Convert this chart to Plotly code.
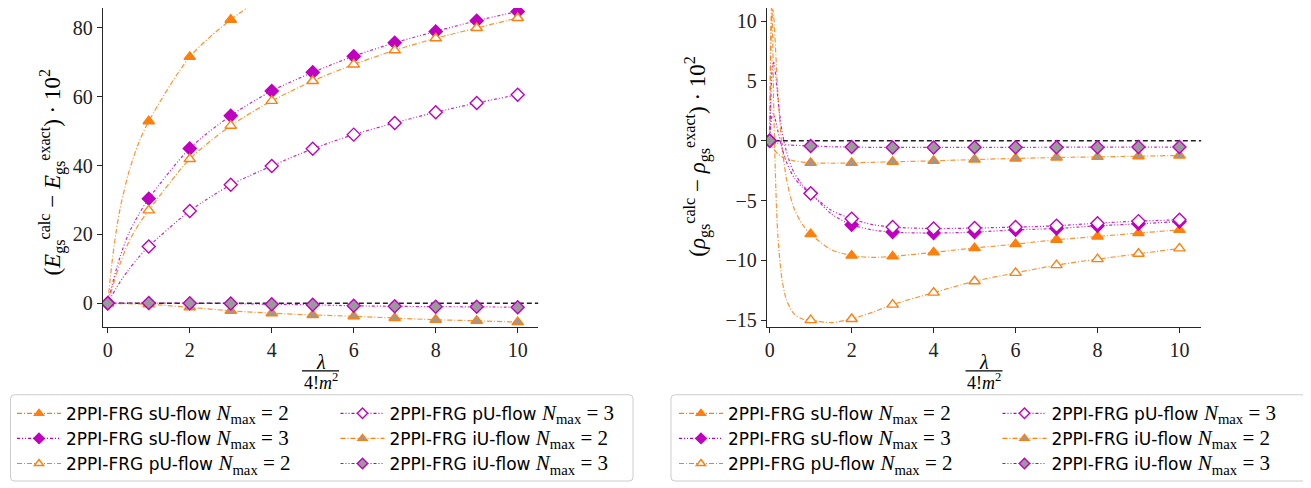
import plotly.graph_objects as go

# ---------------- data ----------------
# left panel: (E_calc - E_exact) * 10^2  vs  lambda / (4! m^2)
LAM_E = [0, 0.05, 0.1, 0.2, 0.3, 0.5, 0.75, 1, 2, 3, 4, 5, 6, 7, 8, 9, 10]
LAM_E_SU2 = [0, 0.05, 0.1, 0.2, 0.3, 0.5, 0.75, 1, 2, 3, 4]
E_SU2 = [0, 6.0, 11.5, 20.5, 27.5, 37.5, 46.5, 52.9, 71.6, 82.4, 90.5]
E_SU3 = [0, 2.5, 5.0, 9.5, 13.5, 20.0, 25.7, 30.4, 45.0, 54.5, 61.7, 67.1, 71.8, 75.7, 79.0, 82.1, 84.8]
E_PU2 = [0, 2.0, 4.0, 8.0, 11.5, 17.5, 22.8, 27.0, 41.9, 51.6, 58.8, 64.6, 69.4, 73.5, 77.0, 80.0, 82.9]
E_PU3 = [0, 1.1, 2.2, 4.3, 6.2, 9.6, 13.3, 16.5, 26.8, 34.4, 39.9, 44.9, 49.0, 52.4, 55.5, 58.2, 60.6]
E_IU2 = [0, -0.01, -0.03, -0.06, -0.09, -0.14, -0.22, -0.3, -1.2, -2.2, -2.9, -3.4, -3.8, -4.3, -4.8, -5.1, -5.5]
E_IU3 = [0, 0.0, 0.0, 0.01, 0.02, 0.03, 0.04, 0.05, 0.0, -0.1, -0.3, -0.45, -0.75, -0.9, -1.0, -1.05, -1.15]

# right panel: (rho_calc - rho_exact) * 10^2
LAM_R = [0, 0.025, 0.05, 0.075, 0.1, 0.15, 0.2, 0.3, 0.4, 0.5, 0.6, 0.8, 1,
         1.5, 2, 2.5, 3, 4, 5, 6, 7, 8, 9, 10]
R_SU2 = [0, 6.5, 10.3, 11.0, 10.3, 7.2, 4.0, -0.5, -3.0, -4.6, -5.7, -7.0, -7.8,
         -9.1, -9.6, -9.75, -9.67, -9.33, -8.97, -8.64, -8.28, -8.0, -7.72, -7.45]
R_SU3 = [0, 1.2, 2.0, 2.25, 2.2, 1.6, 0.8, -0.6, -1.7, -2.5, -3.1, -3.9, -4.4,
         -6.1, -7.03, -7.45, -7.64, -7.72, -7.64, -7.45, -7.34, -7.11, -6.95, -6.75]
R_PU2 = [0, 9.0, 11.6, 8.0, 2.5, -4.0, -8.0, -11.6, -13.2, -14.0, -14.5, -14.9, -15.0,
         -15.2, -14.9, -14.35, -13.7, -12.7, -11.75, -11.05, -10.4, -9.9, -9.45, -9.0]
R_PU3 = [0, 3.0, 5.5, 6.4, 6.55, 5.3, 3.5, 0.8, -0.8, -1.9, -2.7, -3.7, -4.4,
         -5.8, -6.53, -7.0, -7.22, -7.34, -7.3, -7.22, -7.11, -6.89, -6.72, -6.61]
R_IU2 = [0, -0.2, -0.38, -0.55, -0.7, -0.92, -1.1, -1.35, -1.5, -1.6, -1.68, -1.78, -1.85,
         -1.88, -1.85, -1.8, -1.76, -1.68, -1.57, -1.48, -1.4, -1.35, -1.29, -1.23]
R_IU3 = [0, -0.02, -0.05, -0.08, -0.1, -0.15, -0.2, -0.27, -0.32, -0.36, -0.38, -0.41, -0.43,
         -0.5, -0.53, -0.55, -0.56, -0.56, -0.55, -0.55, -0.54, -0.54, -0.53, -0.53]

X_TICKS = [0, 2, 4, 6, 8, 10]
Y_TICKS_E = [0, 20, 40, 60, 80]
Y_TICKS_R = [-15, -10, -5, 0, 5, 10]

LABELS = {
    "sU2": ("sU-flow", 2), "sU3": ("sU-flow", 3),
    "pU2": ("pU-flow", 2), "pU3": ("pU-flow", 3),
    "iU2": ("iU-flow", 2), "iU3": ("iU-flow", 3),
}

# ---------------- styling ----------------
OFF = 8                     # page body margin of the browser
W, H = 1311 - OFF, 488 - OFF
ORANGE = "#ff7f0e"
MAGENTA = "#c000c0"
GRAY = "#9a9a9a"
AXC = "#262626"
SERIF = "Liberation Serif"
SANS = "DejaVu Sans"
DASH_O = "5px,2px,1px,2px"
DASH_M = "3px,2px,1px,2px,1px,2px"

STYLE = {
    "sU2": dict(color=ORANGE, symbol="triangle-up", fill=ORANGE, dash=DASH_O),
    "sU3": dict(color=MAGENTA, symbol="diamond", fill=MAGENTA, dash=DASH_M),
    "pU2": dict(color=ORANGE, symbol="triangle-up", fill="white", dash=DASH_O),
    "pU3": dict(color=MAGENTA, symbol="diamond", fill="white", dash=DASH_M),
    "iU2": dict(color=ORANGE, symbol="triangle-up", fill=GRAY, dash=DASH_O),
    "iU3": dict(color=MAGENTA, symbol="diamond", fill=GRAY, dash=DASH_M),
}
ORDER = ["sU2", "sU3", "pU2", "pU3", "iU2", "iU3"]
COL1 = ["sU2", "sU3", "pU2"]


def px_x(p):
    return min(1.0, max(0.0, (p - OFF) / W))


def px_y(p):
    return min(1.0, max(0.0, 1 - (p - OFF) / H))


def label(key):
    flow, n = LABELS[key]
    return (f'2PPI-FRG {flow} <span style="font-family:{SERIF};font-size:21px">'
            f'<i>N</i><sub>max</sub>&nbsp;=&nbsp;{n}</span>')


def marker(key, size):
    s = STYLE[key]
    return dict(symbol=s["symbol"], size=size, color=s["fill"],
                line=dict(color=s["color"], width=1.4))


fig = go.Figure()

panels = [
    dict(xa="x", ya="y", lam={"sU2": LAM_E_SU2}, lam_def=LAM_E,
         vals={"sU2": E_SU2, "sU3": E_SU3, "pU2": E_PU2, "pU3": E_PU3,
               "iU2": E_IU2, "iU3": E_IU3},
         legs=("legend", "legend2")),
    dict(xa="x2", ya="y2", lam={}, lam_def=LAM_R,
         vals={"sU2": R_SU2, "sU3": R_SU3, "pU2": R_PU2, "pU3": R_PU3,
               "iU2": R_IU2, "iU3": R_IU3},
         legs=("legend3", "legend4")),
]

for p in panels:
    for key in ORDER:
        s = STYLE[key]
        xs = p["lam"].get(key, p["lam_def"])
        ys = p["vals"][key]
        # smooth dash-dot curve
        fig.add_trace(go.Scatter(
            x=xs, y=ys, mode="lines", xaxis=p["xa"], yaxis=p["ya"],
            line=dict(color=s["color"], width=1.2, dash=s["dash"],
                      shape="spline", smoothing=0.8),
            opacity=0.85, showlegend=False, hoverinfo="skip"))
        # markers at integer lambda
        mx = [x for x in xs if float(x).is_integer()]
        my = [y for x, y in zip(xs, ys) if float(x).is_integer()]
        fig.add_trace(go.Scatter(
            x=mx, y=my, mode="markers", xaxis=p["xa"], yaxis=p["ya"],
            marker=marker(key, 10), showlegend=False))
    # legend entries
    for key in ORDER:
        s = STYLE[key]
        fig.add_trace(go.Scatter(
            x=[None], y=[None], mode="lines+markers", xaxis=p["xa"], yaxis=p["ya"],
            name=label(key), line=dict(color=s["color"], width=1.2, dash=s["dash"]),
            marker=marker(key, 8),
            legend=p["legs"][0] if key in COL1 else p["legs"][1]))

# zero reference lines
for xr, yr in (("x domain", "y"), ("x2 domain", "y2")):
    fig.add_shape(type="line", xref=xr, yref=yr, x0=0, x1=1, y0=0, y1=0,
                  line=dict(color="#222", width=1.3, dash="5px,3px"), layer="below")


# legend frames (rounded rectangles)
def rounded_rect(x0, y0, x1, y1, r=4):
    rx, ry = r / W, r / H
    X0, X1 = px_x(x0), px_x(x1)
    Y0, Y1 = px_y(y0), px_y(y1)  # Y0 top, Y1 bottom
    return (f"M {X0+rx},{Y0} L {X1-rx},{Y0} Q {X1},{Y0} {X1},{Y0-ry} "
            f"L {X1},{Y1+ry} Q {X1},{Y1} {X1-rx},{Y1} "
            f"L {X0+rx},{Y1} Q {X0},{Y1} {X0},{Y1+ry} "
            f"L {X0},{Y0-ry} Q {X0},{Y0} {X0+rx},{Y0} Z")


for bx0, bx1 in ((8.5, 632), (670, 1306)):
    fig.add_shape(type="path", xref="paper", yref="paper",
                  path=rounded_rect(bx0, 398, bx1, 485),
                  line=dict(color="#cccccc", width=1), fillcolor="white",
                  layer="below")

# axis titles as annotations
ann = []
ann.append(dict(x=px_x(50), y=px_y(173), xref="paper", yref="paper", textangle=-90,
                showarrow=False, xanchor="center", yanchor="middle",
                font=dict(family=SERIF, size=23, color="black"),
                text="(<i>E</i><sub>gs</sub><sup>calc</sup> − <i>E</i><sub>gs</sub>"
                     "<sup>exact</sup>) · 10<sup>2</sup>"))
ann.append(dict(x=px_x(696), y=px_y(157), xref="paper", yref="paper", textangle=-90,
                showarrow=False, xanchor="center", yanchor="middle",
                font=dict(family=SERIF, size=23, color="black"),
                text="(<i>ρ</i><sub>gs</sub><sup>calc</sup> − <i>ρ</i><sub>gs</sub>"
                     "<sup>exact</sup>) · 10<sup>2</sup>"))
for cx in (319, 983.5):
    ann.append(dict(x=px_x(cx), y=px_y(365), xref="paper", yref="paper",
                    showarrow=False, xanchor="center", yanchor="middle",
                    font=dict(family=SERIF, size=20, color="black"), text="<i>λ</i>"))
    ann.append(dict(x=px_x(cx), y=px_y(385), xref="paper", yref="paper",
                    showarrow=False, xanchor="center", yanchor="middle",
                    font=dict(family=SERIF, size=18, color="black"),
                    text="4!<i>m</i><sup>2</sup>"))
    fig.add_shape(type="line", xref="paper", yref="paper",
                  x0=px_x(cx - 18.5), x1=px_x(cx + 18.5), y0=px_y(374), y1=px_y(374),
                  line=dict(color="black", width=1.3))

axis_common = dict(showline=True, linecolor=AXC, linewidth=1.3, ticks="outside",
                   ticklen=5, tickwidth=1.2, tickcolor=AXC, showgrid=False,
                   zeroline=False, tickfont=dict(family=SERIF, size=20, color="#222"))

leg_common = dict(xanchor="left", yanchor="top", bgcolor="rgba(0,0,0,0)",
                  borderwidth=0, font=dict(family=SANS, size=17, color="black"),
                  tracegroupgap=0, itemclick=False, itemwidth=44)

fig.update_layout(
    width=W, height=H, margin=dict(l=0, r=0, t=0, b=0),
    paper_bgcolor="white", plot_bgcolor="white",
    xaxis=dict(domain=[px_x(101), px_x(537)], range=[-0.12, 10.5], tickvals=X_TICKS,
               anchor="y", **axis_common),
    yaxis=dict(domain=[px_y(330), px_y(7)], range=[-7.0, 85.8], tickvals=Y_TICKS_E,
               anchor="x", **axis_common),
    xaxis2=dict(domain=[px_x(766), px_x(1201)], range=[-0.07, 10.53], tickvals=X_TICKS,
                anchor="y2", **axis_common),
    yaxis2=dict(domain=[px_y(330), px_y(7)], range=[-15.6, 11.1], tickvals=Y_TICKS_R,
                anchor="x2", **axis_common),
    legend=dict(x=px_x(10), y=px_y(399), **leg_common),
    legend2=dict(x=px_x(334), y=px_y(399), **leg_common),
    legend3=dict(x=px_x(673), y=px_y(399), **leg_common),
    legend4=dict(x=px_x(997), y=px_y(399), **leg_common),
    annotations=ann,
    showlegend=True,
)

fig.write_html("out.html")
